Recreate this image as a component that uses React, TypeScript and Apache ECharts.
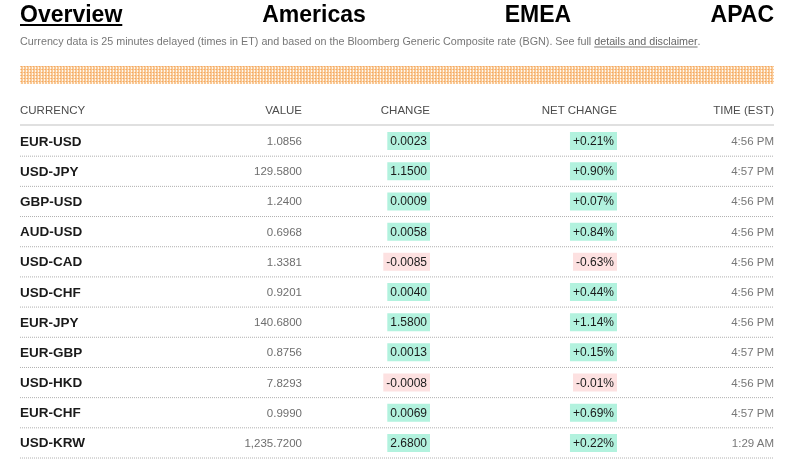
import React, { useEffect, useRef } from "react";
import * as echarts from "echarts";

const TABS = ["Overview", "Americas", "EMEA", "APAC"];
const SUBTITLE_TEXT = "Currency data is 25 minutes delayed (times in ET) and based on the Bloomberg Generic Composite rate (BGN). See full ";
const LINK_TEXT = "details and disclaimer";
const HEADERS = ["CURRENCY", "VALUE", "CHANGE", "NET CHANGE", "TIME (EST)"];
const CURRENCIES = ["EUR-USD", "USD-JPY", "GBP-USD", "AUD-USD", "USD-CAD", "USD-CHF", "EUR-JPY", "EUR-GBP", "USD-HKD", "EUR-CHF", "USD-KRW"];
const VALUES = [1.0856, 129.58, 1.24, 0.6968, 1.3381, 0.9201, 140.68, 0.8756, 7.8293, 0.999, 1235.72];
const CHANGES = [0.0023, 1.15, 0.0009, 0.0058, -0.0085, 0.004, 1.58, 0.0013, -0.0008, 0.0069, 2.68];
const NET_CHANGES = [0.21, 0.9, 0.07, 0.84, -0.63, 0.44, 1.14, 0.15, -0.01, 0.69, 0.22];
const TIMES = ["4:56 PM", "4:57 PM", "4:56 PM", "4:56 PM", "4:56 PM", "4:56 PM", "4:56 PM", "4:57 PM", "4:56 PM", "4:57 PM", "1:29 AM"];

// layout (axis units along the hidden x axis = pixels inside the grid)
const COL = { currency: 0, value: 282, change: 410, net: 597, time: 754 };
const FONT = '"Liberation Sans", Arial, Helvetica, sans-serif';
const GREEN = "#b2f2de";
const RED = "#fde1e1";

function measure(text: string, font: string): number {
  const c = document.createElement("canvas");
  const ctx = c.getContext("2d");
  if (!ctx) return text.length * 5.5;
  ctx.font = font;
  return ctx.measureText(text).width;
}

function makePattern(): HTMLCanvasElement {
  const c = document.createElement("canvas");
  c.width = 3;
  c.height = 3;
  const ctx = c.getContext("2d")!;
  ctx.fillStyle = "#fff7ee";
  ctx.fillRect(0, 0, 3, 3);
  ctx.fillStyle = "#f9c894";
  ctx.fillRect(0, 0, 3, 1);
  ctx.fillRect(0, 0, 2, 3);
  ctx.fillStyle = "#f4a760";
  ctx.fillRect(0, 0, 1, 1);
  return c;
}

export default function App() {
  const ref = useRef<HTMLDivElement>(null);
  useEffect(() => {
    if (!ref.current) return;
    const chart = echarts.init(ref.current, undefined, { renderer: "svg" });
    const subFont = `10.75px ${FONT}`;
    const subW = measure(SUBTITLE_TEXT, subFont);
    const linkW = measure(LINK_TEXT, subFont);
    const linkX = 20 + subW;

    const tabFont = `bold 23px ${FONT}`;
    const tabPos: [number, string][] = [
      [20, "left"],
      [314, "center"],
      [538, "center"],
      [774, "right"],
    ];
    const overviewW = measure(TABS[0], tabFont);

    const headerX = [20, 302, 430, 617, 774];

    const graphic: any[] = [];
    TABS.forEach((t, i) => {
      graphic.push({
        type: "text",
        x: tabPos[i][0],
        y: 14,
        style: { text: t, font: tabFont, fill: "#000", align: tabPos[i][1], verticalAlign: "middle" },
      });
    });
    graphic.push({
      type: "line",
      shape: { x1: 20, y1: 25, x2: 20 + overviewW, y2: 25 },
      style: { stroke: "#000", lineWidth: 2 },
    });
    graphic.push({
      type: "text",
      x: 20,
      y: 41,
      style: { text: SUBTITLE_TEXT, font: subFont, fill: "#777", align: "left", verticalAlign: "middle" },
    });
    graphic.push({
      type: "text",
      x: linkX,
      y: 41,
      style: { text: LINK_TEXT, font: subFont, fill: "#666", align: "left", verticalAlign: "middle" },
    });
    graphic.push({
      type: "line",
      shape: { x1: linkX, y1: 47, x2: linkX + linkW, y2: 47 },
      style: { stroke: "#777", lineWidth: 1 },
    });
    graphic.push({
      type: "text",
      x: linkX + linkW,
      y: 41,
      style: { text: ".", font: subFont, fill: "#777", align: "left", verticalAlign: "middle" },
    });
    graphic.push({
      type: "rect",
      shape: { x: 20, y: 66, width: 754, height: 18 },
      style: { fill: { image: makePattern(), repeat: "repeat" } as any },
    });
    HEADERS.forEach((h, i) => {
      graphic.push({
        type: "text",
        x: headerX[i],
        y: 110,
        style: {
          text: h,
          font: `500 11.5px ${FONT}`,
          fill: "#4d4d4d",
          align: i === 0 ? "left" : "right",
          verticalAlign: "middle",
        },
      });
    });
    graphic.push({
      type: "line",
      shape: { x1: 20, y1: 125, x2: 774, y2: 125 },
      style: { stroke: "#e0e0e0", lineWidth: 2 },
    });

    const fmtValue = (n: number) =>
      n.toLocaleString("en-US", { minimumFractionDigits: 4, maximumFractionDigits: 4 });
    const fmtChange = (n: number) => n.toFixed(4);
    const fmtNet = (n: number) => (n >= 0 ? "+" : "") + n.toFixed(2) + "%";

    const option: any = {
      animation: false,
      grid: { left: 20, right: 26, top: 126, bottom: 13 },
      xAxis: { type: "value", min: 0, max: 754, show: false },
      yAxis: { type: "category", data: CURRENCIES, inverse: true, show: false },
      graphic,
      series: [
        {
          type: "custom",
          encode: { x: 0, y: 1 },
          data: CURRENCIES.map((_, i) => [0, i]),
          renderItem: (params: any, api: any) => {
            const i = api.value(1);
            const y = api.coord([0, i])[1];
            const band = api.size([0, 1])[1];
            const xr = (v: number) => api.coord([v, i])[0];
            const ch = CHANGES[i];
            const nc = NET_CHANGES[i];
            return {
              type: "group",
              children: [
                {
                  type: "text",
                  x: xr(COL.currency),
                  y,
                  style: { text: CURRENCIES[i], font: `bold 13.5px ${FONT}`, fill: "#1a1a1a", align: "left", verticalAlign: "middle" },
                },
                {
                  type: "text",
                  x: xr(COL.value),
                  y,
                  style: { text: fmtValue(VALUES[i]), font: `11.5px ${FONT}`, fill: "#6e6e6e", align: "right", verticalAlign: "middle" },
                },
                {
                  type: "text",
                  x: xr(COL.change),
                  y,
                  style: {
                    text: fmtChange(ch),
                    font: `12px ${FONT}`,
                    fill: "#1a1a1a",
                    align: "right",
                    verticalAlign: "middle",
                    backgroundColor: ch >= 0 ? GREEN : RED,
                    padding: [3, 3, 3, 3],
                  },
                },
                {
                  type: "text",
                  x: xr(COL.net),
                  y,
                  style: {
                    text: fmtNet(nc),
                    font: `12px ${FONT}`,
                    fill: "#1a1a1a",
                    align: "right",
                    verticalAlign: "middle",
                    backgroundColor: nc >= 0 ? GREEN : RED,
                    padding: [3, 3, 3, 3],
                  },
                },
                {
                  type: "text",
                  x: xr(COL.time),
                  y,
                  style: { text: TIMES[i], font: `11.5px ${FONT}`, fill: "#777", align: "right", verticalAlign: "middle" },
                },
                {
                  type: "line",
                  shape: { x1: xr(0), y1: y + band / 2, x2: xr(754), y2: y + band / 2 },
                  style: { stroke: "#b0b0b0", lineWidth: 1, lineDash: [1, 1] },
                },
              ],
            };
          },
        },
      ],
    };
    chart.setOption(option);
    return () => chart.dispose();
  }, []);
  return <div ref={ref} style={{ position: "fixed", left: 0, top: 0, width: 800, height: 471 }} />;
}
